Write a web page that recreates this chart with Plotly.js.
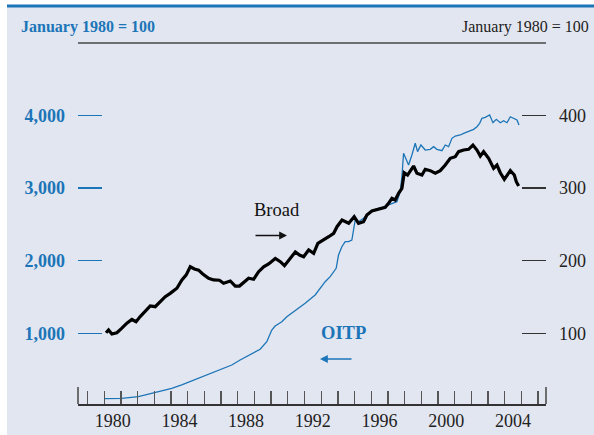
<!DOCTYPE html>
<html>
<head>
<meta charset="utf-8">
<script src="https://cdn.plot.ly/plotly-3.0.1.min.js"></script>
<style>html,body{margin:0;padding:0;background:#fff;}#chart{width:594px;height:435px;}</style>
</head>
<body>
<div id="chart"></div>
<script>
// ---- Data (decimal years) ----
const oitpYears = [1980.0,1981.04,1982.04,1983.04,1984.04,1984.64,1985.24,1985.84,1986.54,1987.04,1987.64,1988.14,1988.74,1989.34,1989.74,1990.04,1990.24,1990.64,1990.94,1991.44,1992.04,1992.64,1993.24,1993.54,1993.9,1994.04,1994.24,1994.44,1994.64,1994.84,1995.04,1995.24,1995.54,1995.84,1996.14,1996.44,1996.74,1997.04,1997.34,1997.54,1997.74,1997.84,1997.94,1998.14,1998.24,1998.44,1998.64,1998.78,1998.98,1999.24,1999.54,1999.74,1999.94,2000.24,2000.44,2000.64,2000.84,2001.04,2001.34,2001.54,2001.74,2001.94,2002.14,2002.34,2002.5,2002.64,2002.84,2003.1,2003.3,2003.5,2003.74,2003.94,2004.14,2004.34,2004.58,2004.74,2004.86];
const oitpValues = [100,105,127,183,243,289,344,403,458,505,564,633,701,780,884,1045,1100,1160,1228,1307,1413,1527,1710,1779,1894,2077,2192,2261,2261,2284,2559,2536,2583,2651,2697,2720,2734,2766,2789,2811,2949,3155,3477,3385,3316,3454,3615,3500,3591,3522,3532,3568,3532,3513,3591,3568,3683,3715,3729,3752,3774,3788,3807,3843,3890,3959,3972,4004,3898,3945,3898,3926,3898,3980,3958,3935,3866];

const broadYears = [1980.1,1980.25,1980.45,1980.75,1981.05,1981.35,1981.65,1981.9,1982.15,1982.45,1982.75,1983.05,1983.35,1983.65,1983.95,1984.15,1984.35,1984.65,1984.9,1985.15,1985.4,1985.65,1985.9,1986.25,1986.55,1986.9,1987.15,1987.55,1987.85,1988.1,1988.35,1988.65,1988.95,1989.25,1989.55,1989.85,1990.25,1990.55,1990.8,1991.15,1991.45,1991.7,1991.95,1992.25,1992.55,1992.8,1993.15,1993.45,1993.75,1993.95,1994.25,1994.65,1994.98,1995.24,1995.54,1995.74,1996.04,1996.34,1996.64,1996.84,1997.04,1997.24,1997.44,1997.64,1997.84,1997.98,1998.18,1998.54,1998.74,1999.04,1999.24,1999.54,1999.84,2000.14,2000.44,2000.74,2001.04,2001.24,2001.54,2001.84,2002.1,2002.34,2002.54,2002.74,2003.04,2003.34,2003.54,2003.74,2003.98,2004.34,2004.58,2004.7,2004.84];
const broadValues = [100.8,104.5,99,100.8,107,114,119,116,123,130,137.6,136.6,143.5,150.4,155,158,162,173.4,180,191.6,188.5,187,181.6,175.7,173.4,173,168.8,172,165,165,169.6,175.7,174.3,184.8,191.6,195.4,203,198.5,193,203,212,207.7,205.4,214.6,210,223.8,229.4,232.9,237.6,246.7,255.9,251.4,260.4,251.4,253.6,262.8,268.3,270.6,272,273.4,278.9,285.8,283.4,292.7,299.5,321,317.8,330.2,320.2,317.8,325.7,323.8,320.2,323.8,331.6,340.8,343,349.9,352.2,353.2,359.1,352.2,343.9,349.9,340.8,327,331.6,321,311.9,323.8,317.8,308.6,302.7];

const xLabelYears = [1980,1984,1988,1992,1996,2000,2004];
const xTickYears = [1979,1980,1981,1982,1983,1984,1985,1986,1987,1988,1989,1990,1991,1992,1993,1994,1995,1996,1997,1998,1999,2000,2001,2002,2003,2004,2005,2006];
const leftTickVals = [1000,2000,3000,4000];
const leftTickText = ['1,000','2,000','3,000','4,000'];
const rightTickVals = [100,200,300,400];
const rightTickText = ['100','200','300','400'];
const titleText = 'January 1980 = 100';

// ---- Style ----
const BLUE = '#1c75b8';
const SERIF = 'Liberation Serif, Times New Roman, serif';
// pixel -> paper helpers (plot area: x 78..546, y 43..404)
const px = v => (v - 78) / 468;
const py = v => (404 - v) / 361;

const traces = [
  {x: oitpYears, y: oitpValues, type: 'scatter', mode: 'lines', yaxis: 'y',
   line: {color: BLUE, width: 1.3}, hoverinfo: 'skip'},
  {x: broadYears, y: broadValues, type: 'scatter', mode: 'lines', yaxis: 'y2',
   line: {color: '#000', width: 3.2}, hoverinfo: 'skip'}
];

const layout = {
  width: 594, height: 435,
  margin: {l: 78, r: 48, t: 43, b: 31, pad: 0},
  paper_bgcolor: '#ffffff',
  plot_bgcolor: 'rgba(0,0,0,0)',
  showlegend: false,
  xaxis: {
    range: [1978.42, 2006.48], fixedrange: true,
    tickmode: 'array', tickvals: xLabelYears.map(y => y + 0.5), ticktext: xLabelYears.map(String),
    ticks: '', showgrid: false, zeroline: false,
    showline: true, linecolor: '#333', linewidth: 1.5,
    tickfont: {family: SERIF, size: 18, color: '#222'},
    minor: {tickmode: 'array', tickvals: xTickYears, ticks: 'inside', ticklen: 13, tickwidth: 1.3, tickcolor: '#555', showgrid: false}
  },
  yaxis: {
    range: [27, 4995], fixedrange: true,
    tickmode: 'array', tickvals: leftTickVals, ticktext: leftTickText,
    ticks: 'inside', ticklen: 24, tickwidth: 1.2, tickcolor: BLUE,
    showline: false, showgrid: false, zeroline: false,
    ticklabelstandoff: 12,
    tickfont: {family: SERIF, size: 18, color: BLUE, weight: 'bold'}
  },
  yaxis2: {
    overlaying: 'y', side: 'right',
    range: [2.7, 499.5], fixedrange: true,
    tickmode: 'array', tickvals: rightTickVals, ticktext: rightTickText,
    ticks: 'inside', ticklen: 24, tickwidth: 1.5, tickcolor: '#333',
    showline: false, showgrid: false, zeroline: false,
    ticklabelstandoff: 12,
    tickfont: {family: SERIF, size: 18, color: '#222'}
  },
  shapes: [
    {type: 'rect', layer: 'below', xref: 'paper', yref: 'paper',
     x0: px(7), x1: px(594), y0: py(435), y1: py(5), fillcolor: '#e2e6f0', line: {width: 0}},
    {type: 'line', xref: 'paper', yref: 'paper', x0: px(7), x1: px(594), y0: py(6), y1: py(6),
     line: {color: BLUE, width: 3}},
    {type: 'line', xref: 'paper', yref: 'paper', x0: 0, x1: 1, y0: 1, y1: 1,
     line: {color: '#6d6e72', width: 2}},
    {type: 'line', xref: 'paper', yref: 'paper', x0: 0, x1: 0, y0: 0, y1: 17/361,
     line: {color: '#444', width: 1.5}},
    {type: 'line', xref: 'paper', yref: 'paper', x0: 1, x1: 1, y0: 0, y1: 17/361,
     line: {color: '#444', width: 1.5}}
  ],
  annotations: [
    {xref: 'paper', yref: 'paper', x: px(19), y: py(27), xanchor: 'left', yanchor: 'middle',
     text: '<b>' + titleText + '</b>', showarrow: false,
     font: {family: SERIF, size: 16, color: BLUE}},
    {xref: 'paper', yref: 'paper', x: px(591), y: py(27), xanchor: 'right', yanchor: 'middle',
     text: titleText, showarrow: false,
     font: {family: SERIF, size: 16, color: '#222'}},
    {xref: 'paper', yref: 'paper', x: px(277), y: py(210), xanchor: 'center', yanchor: 'middle',
     text: 'Broad', showarrow: false,
     font: {family: SERIF, size: 18.5, color: '#111'}},
    {xref: 'paper', yref: 'paper', x: px(287), y: py(235.5), text: '', showarrow: true,
     ax: -33, ay: 0, arrowhead: 2, arrowsize: 1.2, arrowwidth: 1.3, arrowcolor: '#111', standoff: 0},
    {xref: 'paper', yref: 'paper', x: px(343), y: py(333), xanchor: 'center', yanchor: 'middle',
     text: '<b>OITP</b>', showarrow: false,
     font: {family: SERIF, size: 18.5, color: BLUE}},
    {xref: 'paper', yref: 'paper', x: px(320), y: py(359), text: '', showarrow: true,
     ax: 33, ay: 0, arrowhead: 2, arrowsize: 1.2, arrowwidth: 1.3, arrowcolor: BLUE, standoff: 0}
  ]
};

Plotly.newPlot('chart', traces, layout, {staticPlot: true, displayModeBar: false});
</script>
</body>
</html>
